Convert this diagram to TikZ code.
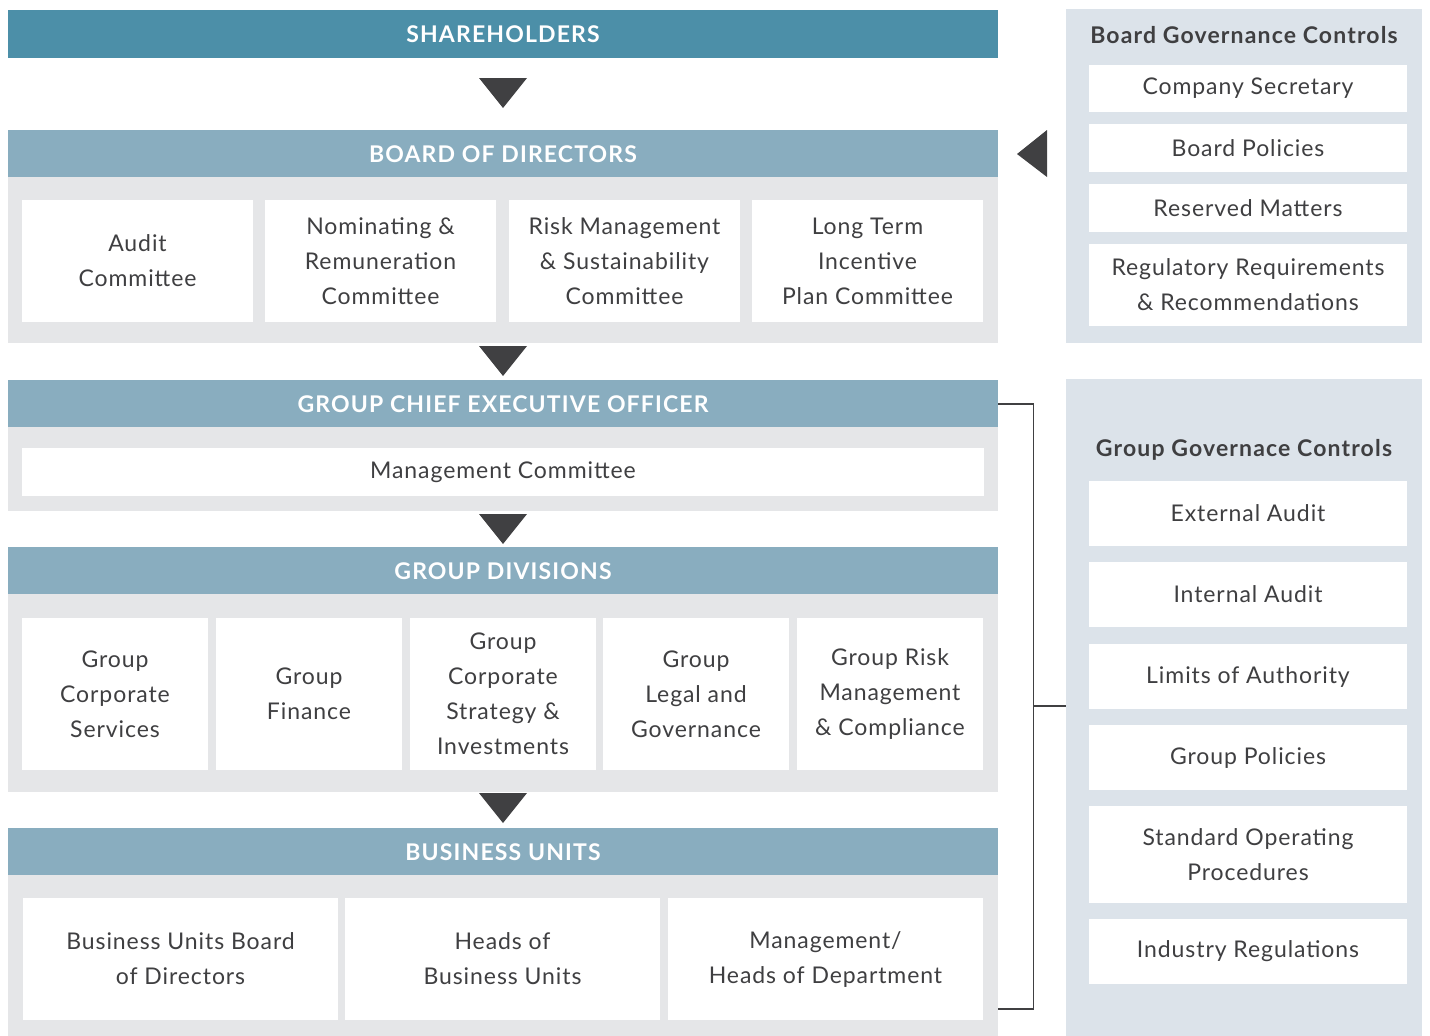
\documentclass[tikz,border=0pt]{standalone}
\usepackage{fontspec}
\setmainfont{Lato}
\newfontfamily\bxfont[LetterSpace=4]{Lato}
\newfontfamily\hdfont[LetterSpace=5]{Lato}
\usepackage{tikz}
\usetikzlibrary{positioning}
\definecolor{shblue}{RGB}{76,143,168}
\definecolor{hdblue}{RGB}{137,173,191}
\definecolor{pgray}{RGB}{229,230,232}
\definecolor{rpanel}{RGB}{220,227,234}
\definecolor{txt}{RGB}{63,63,65}
\definecolor{tri}{RGB}{64,64,66}
\tikzset{
  hdr/.style   ={rectangle,fill=hdblue,text=white,inner sep=0pt,
                 minimum width=990pt,minimum height=48pt,
                 font=\hdfont\bfseries\fontsize{23}{27}\selectfont},
  pnl/.style   ={rectangle,fill=pgray,inner sep=0pt,minimum width=990pt},
  bx/.style    ={rectangle,fill=white,inner sep=0pt,text=txt,align=center,
                 font=\bxfont\fontsize{23}{35}\selectfont},
  rpnl/.style  ={rectangle,fill=rpanel,inner sep=0pt,minimum width=356pt},
  rbx/.style   ={bx,minimum width=318pt},
  rttl/.style  ={text=txt,inner sep=0pt,font=\hdfont\bfseries\fontsize{23}{27}\selectfont},
  dtri/.style  ={fill=tri},
  brk/.style   ={draw=tri,line width=1.3pt},
}

\begin{document}
\begin{tikzpicture}[x=1pt, y=-1pt]
\useasboundingbox (0,0) rectangle (1430,1036);

%% left column: levels
\node[hdr,fill=shblue] (sh) at (503,34) {SHAREHOLDERS};

\node[hdr]            (bdh) at (503,154) {BOARD OF DIRECTORS};
\node[pnl,minimum height=166pt] (bdp) at (503,260) {};
\node[bx,minimum width=231pt,minimum height=122pt] (aud) at (137.5,261) {Audit\\Committee};
\node[bx,minimum width=231pt,minimum height=122pt] (nrc) at (380.5,261) {Nominating \&\\Remuneration\\Committee};
\node[bx,minimum width=231pt,minimum height=122pt] (rms) at (624.5,261) {Risk Management\\\& Sustainability\\Committee};
\node[bx,minimum width=231pt,minimum height=122pt] (lti) at (867.5,261) {Long Term\\Incentive\\Plan Committee};

\node[hdr]            (ceoh) at (503,404) {GROUP CHIEF EXECUTIVE OFFICER};
\node[pnl,minimum height=84pt] (ceop) at (503,469) {};
\node[bx,minimum width=962pt,minimum height=48pt] (mc) at (503,472) {Management Committee};

\node[hdr]            (gdh) at (503,571) {GROUP DIVISIONS};
\node[pnl,minimum height=198pt] (gdp) at (503,693) {};
\node[bx,minimum width=186pt,minimum height=152pt] (gcs) at (115,694) {Group\\Corporate\\Services};
\node[bx,minimum width=186pt,minimum height=152pt] (gf)  at (309,694) {Group\\Finance};
\node[bx,minimum width=186pt,minimum height=152pt] (gsi) at (503,694) {Group\\Corporate\\Strategy \&\\Investments};
\node[bx,minimum width=186pt,minimum height=152pt] (glg) at (696,694) {Group\\Legal and\\Governance};
\node[bx,minimum width=186pt,minimum height=152pt] (grm) at (890,694) {Group Risk\\Management\\\& Compliance};

\node[hdr]            (buh) at (503,852) {BUSINESS UNITS};
\node[pnl,minimum height=161pt] (bup) at (503,955.5) {};
\node[bx,minimum width=315pt,minimum height=122pt] (bub) at (180.5,959) {Business Units Board\\of Directors};
\node[bx,minimum width=315pt,minimum height=122pt] (hbu) at (502.5,959) {Heads of\\Business Units};
\node[bx,minimum width=315pt,minimum height=122pt] (hod) at (825.5,959) {Management/\\Heads of Department};

%% down arrows between levels
\fill[dtri] (479,78)  -- (527,78)  -- (503,108) -- cycle;
\fill[dtri] (479,346) -- (527,346) -- (503,376) -- cycle;
\fill[dtri] (479,514) -- (527,514) -- (503,544) -- cycle;
\fill[dtri] (479,793) -- (527,793) -- (503,823) -- cycle;

%% right column: board governance controls
\node[rpnl,minimum height=334pt] (bgc) at (1244,176) {};
\node[rttl] (bgct) at (1244,35) {Board Governance Controls};
\node[rbx,minimum height=47pt] (cs) at (1248,88.5) {Company Secretary};
\node[rbx,minimum height=48pt] (bp) at (1248,148)  {Board Policies};
\node[rbx,minimum height=48pt] (rm) at (1248,208)  {Reserved Matters};
\node[rbx,minimum height=82pt] (rr) at (1248,285)  {Regulatory Requirements\\\& Recommendations};

\fill[dtri] (1017,154) -- (1047,130) -- (1047,177) -- cycle;

%% right column: group governance controls
\node[rpnl,minimum height=657pt] (ggc) at (1244,707.5) {};
\node[rttl] (ggct) at (1244,450) {Group Governace Controls};
\node[rbx,minimum height=65pt] (ea)  at (1248,513.5) {External Audit};
\node[rbx,minimum height=65pt] (ia)  at (1248,594.5) {Internal Audit};
\node[rbx,minimum height=65pt] (loa) at (1248,676.5) {Limits of Authority};
\node[rbx,minimum height=65pt] (gp)  at (1248,757.5) {Group Policies};
\node[rbx,minimum height=97pt] (sop) at (1248,854.5) {Standard Operating\\Procedures};
\node[rbx,minimum height=65pt] (ir)  at (1248,951.5) {Industry Regulations};

%% bracket joining CEO..business units to group controls
\coordinate (bkb) at (998,1009);
\draw[brk] (ceoh.east) -- ++(35,0) |- (bkb);
\draw[brk] (1033,706) -- (ggc.west |- 0,706);

\end{tikzpicture}
\end{document}
